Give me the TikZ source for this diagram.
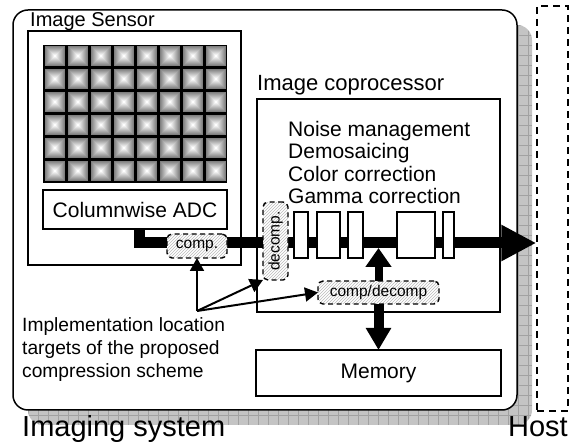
\documentclass[tikz,border=0pt]{standalone}
\usepackage{fontspec}
\setmainfont{Liberation Sans}
\usetikzlibrary{arrows.meta,patterns}
\definecolor{shadowgray}{HTML}{C4C4C4}
\definecolor{shadowline}{HTML}{A2A2A2}
\definecolor{hatchgray}{HTML}{BBBBBB}
\newcommand{\myfs}[1]{\fontsize{#1pt}{#1pt}\selectfont}
\begin{document}
\begin{tikzpicture}[x=1pt,y=-1pt,
  box/.style={draw, line width=1.5pt, fill=white, inner sep=0pt, outer sep=0pt},
  blk/.style={box, line width=1.3pt},
  hatchbox/.style={draw, dash pattern=on 5pt off 3.5pt, line width=1.4pt, rounded corners=5pt,
    preaction={fill=white}, pattern=north east lines, pattern color=hatchgray,
    inner sep=0pt, outer sep=0pt, font=\myfs{15.5}},
  lbl/.style={inner sep=0pt, anchor=base west},
  bigarrow/.style={line width=11pt, -{Triangle[length=35pt,width=34pt]}},
  uparrow/.style={line width=8pt, -{Triangle[length=19pt,width=25pt]}},
  downarrow/.style={line width=10pt, -{Triangle[length=22pt,width=24pt]}},
  thinarrow/.style={line width=2pt, -{Triangle[length=13pt,width=14pt]}}
]
\useasboundingbox (0,0) rectangle (571,443);
% shadow of the imaging system
\begin{scope}
  \fill[shadowgray, rounded corners=15pt] (28,25) rectangle (532,425);
  \clip[rounded corners=15pt] (28,25) rectangle (532,425);
  \foreach \x in {28,38,...,532} \draw[shadowline, line width=0.6pt] (\x,25) -- (\x,425);
  \foreach \y in {25,35,...,425} \draw[shadowline, line width=0.6pt] (28,\y) -- (532,\y);
\end{scope}
% outer boxes
\node[box, rounded corners=15pt, minimum width=504pt, minimum height=400pt] (imgsys) at (265,210) {};
\node[draw, dash pattern=on 7pt off 5pt, line width=1.5pt, minimum width=31pt, minimum height=405pt, inner sep=0pt] (host) at (552.5,208.5) {};
% image sensor
\node[box, minimum width=213pt, minimum height=234pt] (sensor) at (134.5,148) {};
\node[lbl, font=\myfs{20}] (lsensor) at (30,27) {Image Sensor};
\fill[black] (43,45) rectangle (227,183);
\foreach \i in {0,...,7}{
  \foreach \j in {0,...,5}{
    \foreach \k in {0,...,9}{
      \pgfmathsetmacro{\lev}{50-5.5*\k}
      \pgfmathsetmacro{\xa}{43+23*\i+1.5+\k}
      \pgfmathsetmacro{\ya}{45+23*\j+1.5+\k}
      \pgfmathsetmacro{\xb}{43+23*\i+21.5-\k}
      \pgfmathsetmacro{\yb}{45+23*\j+21.5-\k}
      \fill[black!\lev] (\xa,\ya) rectangle (\xb,\yb);
    }
  }
}
\node[box, minimum width=184pt, minimum height=39pt, font=\myfs{21}] (adc) at (135,209.5) {Columnwise ADC};
% coprocessor
\node[box, minimum width=243pt, minimum height=213pt] (coproc) at (378.5,205.5) {};
\node[lbl, font=\myfs{22}] (lcoproc) at (257,91) {Image coprocessor};
\node[lbl, font=\myfs{21}] (t1) at (288,136.5) {Noise management};
\node[lbl, font=\myfs{21}] (t2) at (288,159) {Demosaicing};
\node[lbl, font=\myfs{21}] (t3) at (288,181.5) {Color correction};
\node[lbl, font=\myfs{21}] (t4) at (288,204) {Gamma correction};
% memory
\node[box, minimum width=245pt, minimum height=46pt, font=\myfs{21}] (memory) at (378.5,373) {Memory};
% main data path
\coordinate (busy) at (0,243);
\draw[bigarrow] ([xshift=4pt]adc.south) |- (host.west |- busy);
\node[blk, minimum width=14pt, minimum height=46pt] (b1) at (301,235) {};
\node[blk, minimum width=23pt, minimum height=46pt] (b2) at (328.5,235) {};
\node[blk, minimum width=15pt, minimum height=46pt] (b3) at (355.5,235) {};
\node[blk, minimum width=38pt, minimum height=46pt] (b4) at (416,235) {};
\node[blk, minimum width=11pt, minimum height=46pt] (b5) at (448.5,235) {};
% compression blocks
\node[hatchbox, minimum width=60pt, minimum height=24pt] (comp) at (197,246) {comp.};
\node[hatchbox, minimum width=25pt, minimum height=78pt] (decomp) at (275.5,241) {\rotatebox{90}{decomp.}};
\node[hatchbox, minimum width=121pt, minimum height=23pt] (compdecomp) at (378.5,292.5) {comp/decomp};
% memory arrows
\coordinate (busj) at (379,248);
\draw[uparrow] (compdecomp.north) -- (compdecomp.north |- busj);
\draw[downarrow] (compdecomp.south) -- (memory.north);
% implementation pointers
\coordinate (src) at (197,311);
\draw[thinarrow] (src) -- (comp.south);
\draw[thinarrow] (src) -- (decomp.south west);
\draw[thinarrow] (src) -- (compdecomp.west);
\node[lbl, font=\myfs{19.2}] (imp1) at (22,332) {Implementation location};
\node[lbl, font=\myfs{19.2}] (imp2) at (22,355) {targets of the proposed};
\node[lbl, font=\myfs{19.2}] (imp3) at (22,378) {compression scheme};
% captions
\node[lbl, font=\myfs{29}] (lsys) at (22,437) {Imaging system};
\node[inner sep=0pt, anchor=base east, font=\myfs{29}] (lhost) at (568,437) {Host};
\end{tikzpicture}
\end{document}
